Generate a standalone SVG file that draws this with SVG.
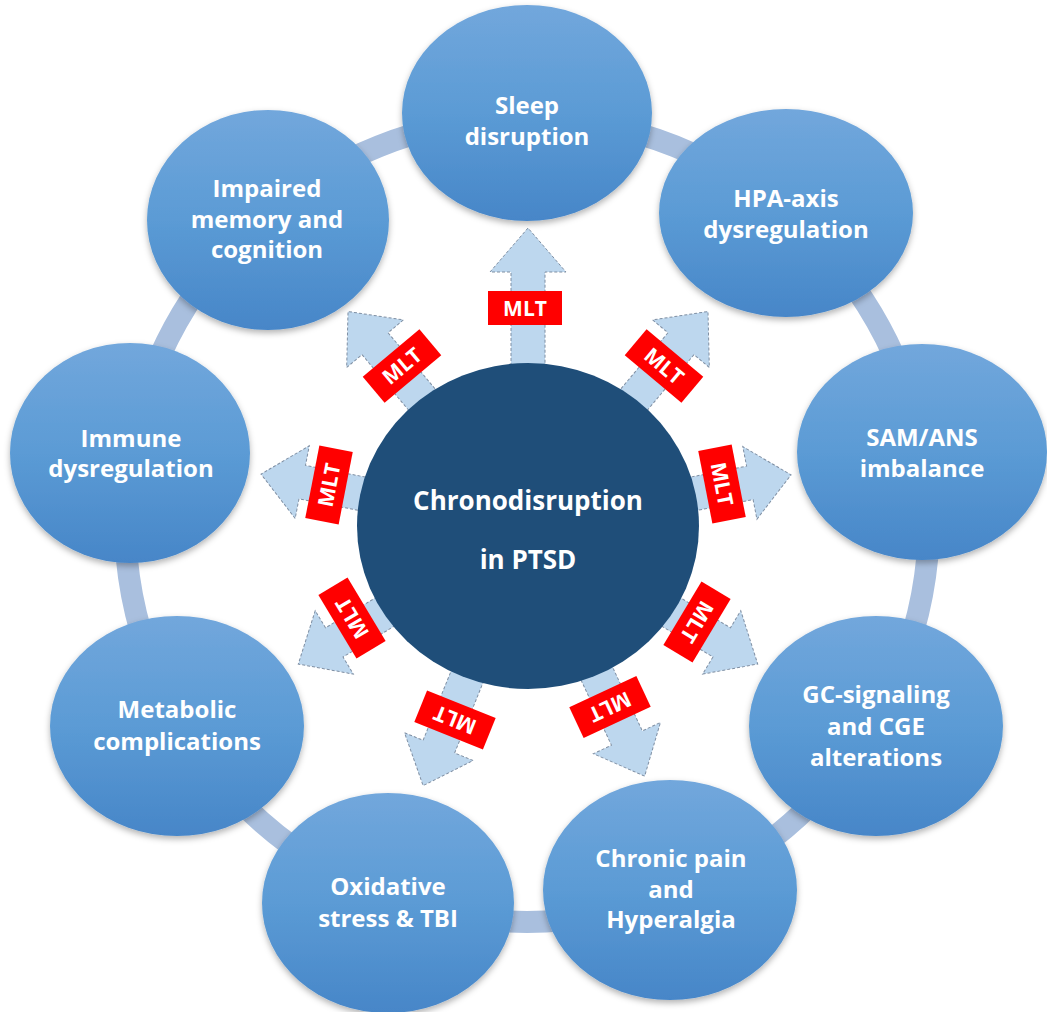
<svg xmlns="http://www.w3.org/2000/svg" width="1047" height="1012" viewBox="0 0 1047 1012">
<defs>
<linearGradient id="nodeGrad" x1="0" y1="0" x2="0" y2="1">
<stop offset="0" stop-color="#72a7dc"/>
<stop offset="0.5" stop-color="#5b9bd5"/>
<stop offset="1" stop-color="#4786c8"/>
</linearGradient>
<filter id="shadow" x="-10%" y="-10%" width="120%" height="125%">
<feDropShadow dx="0" dy="3" stdDeviation="3" flood-color="#000" flood-opacity="0.3"/>
</filter>
<style>
.node{fill:url(#nodeGrad);filter:url(#shadow);}
.ntext{font-family:'Open Sans','Noto Sans',sans-serif;font-weight:bold;font-size:24px;fill:#fff;text-anchor:middle;}
.ctext{font-family:'Open Sans','Noto Sans',sans-serif;font-weight:bold;font-size:26px;fill:#fff;text-anchor:middle;}
.arrow{fill:#bdd7ee;stroke:#7f8fa3;stroke-width:1;stroke-dasharray:3 2;}
.mltbox{fill:#ff0000;}
.mlt{font-family:'Open Sans','Noto Sans',sans-serif;font-weight:bold;font-size:21px;fill:#fff;text-anchor:middle;}
.ring{fill:none;stroke:#a9bfde;stroke-width:22;}
</style>
</defs>
<rect width="1047" height="1012" fill="#ffffff"/>

<g id="connectors">
<circle class="ring" cx="527" cy="520" r="402"/>
<g id="arrows">
<path class="arrow" transform="translate(528,526) rotate(-90)" d="M100,-17 H254 V-38 L298,0 L254,38 V17 H100 Z"/>
<path class="arrow" transform="translate(528,526) rotate(-50)" d="M100,-17 H238 V-37 L280,0 L238,37 V17 H100 Z"/>
<path class="arrow" transform="translate(528,526) rotate(-130)" d="M100,-17 H238 V-37 L280,0 L238,37 V17 H100 Z"/>
<path class="arrow" transform="translate(528,526) rotate(-11)" d="M100,-17 H226 V-37 L268,0 L226,37 V17 H100 Z"/>
<path class="arrow" transform="translate(528,526) rotate(-169)" d="M100,-17 H230 V-37 L272,0 L230,37 V17 H100 Z"/>
<path class="arrow" transform="translate(528,526) rotate(31)" d="M100,-17 H226 V-37 L268,0 L226,37 V17 H100 Z"/>
<path class="arrow" transform="translate(528,526) rotate(149)" d="M100,-17 H226 V-37 L268,0 L226,37 V17 H100 Z"/>
<path class="arrow" transform="translate(528,526) rotate(65)" d="M100,-17 H234 V-37 L276,0 L234,37 V17 H100 Z"/>
<path class="arrow" transform="translate(528,526) rotate(112)" d="M100,-17 H238 V-37 L280,0 L238,37 V17 H100 Z"/>
</g>
</g>

<g id="center">
<ellipse cx="528" cy="526" rx="171" ry="163" fill="#1f4e79"/>
<text class="ctext" x="528" y="510">Chronodisruption</text>
<text class="ctext" x="528" y="569">in PTSD</text>
</g>

<g id="labels">
<g transform="translate(525,308)"><rect class="mltbox" x="-37" y="-17" width="74" height="34"/><text class="mlt" y="7.5">MLT</text></g>
<g transform="translate(664,366) rotate(40)"><rect class="mltbox" x="-37" y="-17" width="74" height="34"/><text class="mlt" y="7.5">MLT</text></g>
<g transform="translate(402,366) rotate(-40)"><rect class="mltbox" x="-37" y="-17" width="74" height="34"/><text class="mlt" y="7.5">MLT</text></g>
<g transform="translate(722,484) rotate(79)"><rect class="mltbox" x="-37" y="-17" width="74" height="34"/><text class="mlt" y="7.5">MLT</text></g>
<g transform="translate(329,485) rotate(-79)"><rect class="mltbox" x="-37" y="-17" width="74" height="34"/><text class="mlt" y="7.5">MLT</text></g>
<g transform="translate(697,622) rotate(121)"><rect class="mltbox" x="-37" y="-17" width="74" height="34"/><text class="mlt" y="7.5">MLT</text></g>
<g transform="translate(352,618) rotate(239)"><rect class="mltbox" x="-37" y="-17" width="74" height="34"/><text class="mlt" y="7.5">MLT</text></g>
<g transform="translate(610,707) rotate(155)"><rect class="mltbox" x="-37" y="-17" width="74" height="34"/><text class="mlt" y="7.5">MLT</text></g>
<g transform="translate(455,720) rotate(202)"><rect class="mltbox" x="-37" y="-17" width="74" height="34"/><text class="mlt" y="7.5">MLT</text></g>
</g>

<g id="node-sleep">
<ellipse class="node" cx="527" cy="113" rx="125" ry="108"/>
<text class="ntext" x="527" y="114">Sleep</text>
<text class="ntext" x="527" y="145">disruption</text>
</g>
<g id="node-hpa">
<ellipse class="node" cx="786" cy="213" rx="127" ry="104"/>
<text class="ntext" x="786" y="207">HPA-axis</text>
<text class="ntext" x="786" y="238">dysregulation</text>
</g>
<g id="node-sam">
<ellipse class="node" cx="922" cy="452" rx="125" ry="108"/>
<text class="ntext" x="922" y="446">SAM/ANS</text>
<text class="ntext" x="922" y="477">imbalance</text>
</g>
<g id="node-gc">
<ellipse class="node" cx="876" cy="726" rx="127" ry="110"/>
<text class="ntext" x="876" y="703">GC-signaling</text>
<text class="ntext" x="876" y="735">and CGE</text>
<text class="ntext" x="876" y="766">alterations</text>
</g>
<g id="node-pain">
<ellipse class="node" cx="670" cy="890" rx="127" ry="110"/>
<text class="ntext" x="671" y="867">Chronic pain</text>
<text class="ntext" x="671" y="898">and</text>
<text class="ntext" x="671" y="928">Hyperalgia</text>
</g>
<g id="node-oxidative">
<ellipse class="node" cx="388" cy="903" rx="126" ry="110"/>
<text class="ntext" x="388" y="895">Oxidative</text>
<text class="ntext" x="388" y="927">stress &amp; TBI</text>
</g>
<g id="node-metabolic">
<ellipse class="node" cx="177" cy="726" rx="127" ry="110"/>
<text class="ntext" x="177" y="718">Metabolic</text>
<text class="ntext" x="177" y="750">complications</text>
</g>
<g id="node-immune">
<ellipse class="node" cx="130" cy="453" rx="120" ry="110"/>
<text class="ntext" x="131" y="447">Immune</text>
<text class="ntext" x="131" y="477">dysregulation</text>
</g>
<g id="node-memory">
<ellipse class="node" cx="268" cy="220" rx="121" ry="110"/>
<text class="ntext" x="267" y="197">Impaired</text>
<text class="ntext" x="267" y="228">memory and</text>
<text class="ntext" x="267" y="258">cognition</text>
</g>
</svg>
